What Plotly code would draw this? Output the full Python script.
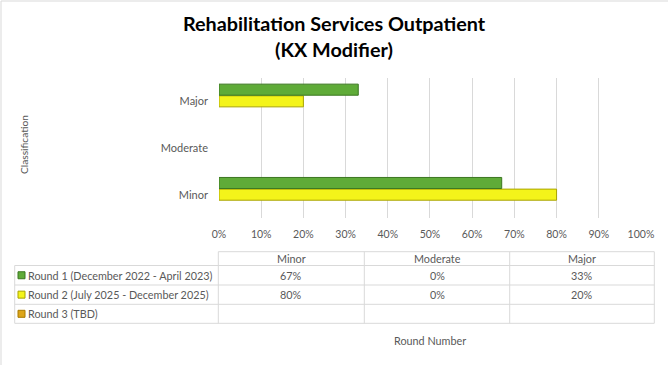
import plotly.graph_objects as go

# ---------------- data ----------------
categories = ["Minor", "Moderate", "Major"]
series_names = [
    "Round 1 (December 2022 - April 2023)",
    "Round 2 (July 2025 - December 2025)",
    "Round 3 (TBD)",
]
round1 = [0.67, 0.00, 0.33]
round2 = [0.80, 0.00, 0.20]
round3 = [None, None, None]
tick_vals = [0, 0.1, 0.2, 0.3, 0.4, 0.5, 0.6, 0.7, 0.8, 0.9, 1.0]
tick_text = ["0%", "10%", "20%", "30%", "40%", "50%", "60%", "70%", "80%", "90%", "100%"]

series_values = [round1, round2, round3]
series_fill = ["#5FAB38", "#F4F41A", "#DDA519"]
series_line = ["#3B7720", "#A9A400", "#A87A00"]

W, H = 668, 365
FONT = "Lato"
GRAY = "#595959"
GRID = "#D9D9D9"


def px(x):
    return x / W


def py(y):
    return 1 - y / H


fig = go.Figure()
# add in reverse so Round 1 sits on top of each group
for name, vals, fc, lc in list(zip(series_names, series_values, series_fill, series_line))[::-1]:
    fig.add_trace(go.Bar(
        y=categories, x=vals, orientation="h", name=name,
        marker=dict(color=fc, line=dict(
            color=[lc if v else "rgba(0,0,0,0)" for v in vals], width=1)),
        showlegend=False,
    ))

fig.update_layout(
    width=W, height=H, autosize=False,
    margin=dict(l=0, r=0, t=0, b=0, pad=0, autoexpand=False),
    paper_bgcolor="white", plot_bgcolor="white",
    barmode="group", bargap=0.25, bargroupgap=0.05,
    font=dict(family=FONT, color=GRAY, size=11),
    showlegend=False,
    title=dict(
        text="<b>Rehabilitation Services Outpatient<br>(KX Modifier)</b>",
        x=0.5, xanchor="center", y=py(31), yanchor="middle",
        font=dict(family=FONT, size=19.8, color="black"),
    ),
    xaxis=dict(
        domain=[px(219), px(641)], range=[0, 1.0001], automargin=False,
        tickvals=tick_vals, ticktext=tick_text,
        showgrid=True, gridcolor=GRID, gridwidth=1,
        zeroline=False, showline=False, ticks="",
        ticklabelstandoff=8,
        tickfont=dict(family=FONT, size=10.5, color=GRAY),
        fixedrange=True,
    ),
    yaxis=dict(
        domain=[py(218), py(78)], automargin=False,
        categoryorder="array", categoryarray=categories,
        showgrid=False, zeroline=False, showline=False, ticks="",
        ticklabelstandoff=10,
        tickfont=dict(family=FONT, size=11, color=GRAY),
        fixedrange=True,
    ),
)

shapes = []
annotations = []

# outer chart border (left and top)
shapes.append(dict(type="line", xref="paper", yref="paper", x0=px(1), x1=px(1), y0=py(1), y1=py(365),
                   line=dict(color=GRID, width=1)))
shapes.append(dict(type="line", xref="paper", yref="paper", x0=px(1), x1=px(668), y0=py(1), y1=py(1),
                   line=dict(color=GRID, width=1)))

# ---------------- data table ----------------
col_x = [14.7, 218.3, 364.3, 509.7, 654.3]
row_y = [251.7, 265.5, 285.0, 304.3, 323.3]


def hline(x0, x1, y):
    shapes.append(dict(type="line", xref="paper", yref="paper", x0=px(x0), x1=px(x1), y0=py(y), y1=py(y),
                       line=dict(color=GRID, width=1)))


def vline(x, y0, y1):
    shapes.append(dict(type="line", xref="paper", yref="paper", x0=px(x), x1=px(x), y0=py(y0), y1=py(y1),
                       line=dict(color=GRID, width=1)))


hline(col_x[1], col_x[-1], row_y[0])
for y in row_y[1:]:
    hline(col_x[0], col_x[-1], y)
vline(col_x[0], row_y[1], row_y[-1])
for x in col_x[1:]:
    vline(x, row_y[0], row_y[-1])

# header
for j, cat in enumerate(categories):
    annotations.append(dict(
        text=cat, xref="paper", yref="paper",
        x=px((col_x[j + 1] + col_x[j + 2]) / 2), y=py((row_y[0] + row_y[1]) / 2),
        xanchor="center", yanchor="middle", showarrow=False,
        font=dict(family=FONT, size=10.8, color=GRAY),
    ))

# rows
for i, (name, vals, fc, lc) in enumerate(zip(series_names, series_values, series_fill, series_line)):
    yc = (row_y[i + 1] + row_y[i + 2]) / 2
    shapes.append(dict(type="rect", xref="paper", yref="paper",
                       x0=px(18), x1=px(25), y0=py(yc - 3.5), y1=py(yc + 3.5),
                       fillcolor=fc, line=dict(color=lc, width=1)))
    annotations.append(dict(
        text=name, xref="paper", yref="paper", x=px(25.5), y=py(yc),
        xanchor="left", yanchor="middle", showarrow=False,
        font=dict(family=FONT, size=10.8, color=GRAY),
    ))
    for j, v in enumerate(vals):
        if v is None:
            continue
        annotations.append(dict(
            text=f"{round(v * 100)}%", xref="paper", yref="paper",
            x=px((col_x[j + 1] + col_x[j + 2]) / 2), y=py(yc),
            xanchor="center", yanchor="middle", showarrow=False,
            font=dict(family=FONT, size=10.8, color=GRAY),
        ))

# axis titles
annotations.append(dict(text="Classification", xref="paper", yref="paper", x=px(24), y=py(145),
                        xanchor="center", yanchor="middle", textangle=-90, showarrow=False,
                        font=dict(family=FONT, size=10.2, color=GRAY)))
annotations.append(dict(text="Round Number", xref="paper", yref="paper", x=px(430), y=py(340),
                        xanchor="center", yanchor="middle", showarrow=False,
                        font=dict(family=FONT, size=10.8, color=GRAY)))

fig.update_layout(shapes=shapes, annotations=annotations)
fig.write_html("out.html", config={"displayModeBar": False},
               post_script="document.body.style.margin='0px';")
